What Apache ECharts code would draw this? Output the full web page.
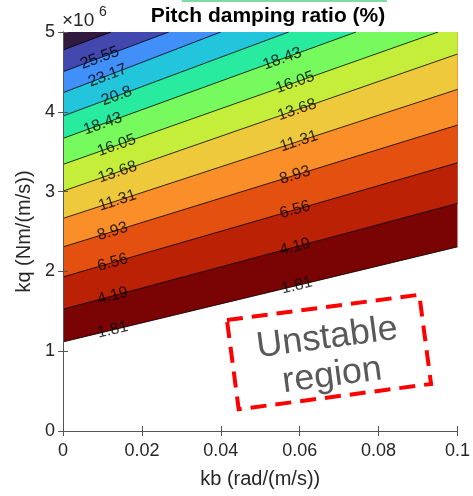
<!DOCTYPE html>
<html>
<head>
<meta charset="utf-8">
<script src="https://cdn.jsdelivr.net/npm/echarts@6/dist/echarts.min.js"></script>
<style>
  html, body { margin: 0; padding: 0; background: #fff; }
  #chart { width: 473px; height: 496px; }
</style>
</head>
<body>
<div id="chart"></div>
<script>
// contour levels of the pitch damping ratio (%)
const levels = [1.81, 4.19, 6.56, 8.93, 11.31, 13.68, 16.05, 18.43, 20.8, 23.17, 25.55, 27.92]
// each contour is a straight line: kq at kb = 0, then its end point (right edge or top edge)
const startKq = [1.116e6, 1.526e6, 1.931e6, 2.307e6, 2.664e6, 3.006e6, 3.341e6, 3.667e6, 3.947e6, 4.239e6, 4.502e6, 4.774e6]
const endKb = [0.1, 0.1, 0.1, 0.1, 0.1, 0.1, 0.0951, 0.0743, 0.0572, 0.04, 0.0268, 0.0122]
const endKq = [2.307e6, 2.852e6, 3.361e6, 3.834e6, 4.281e6, 4.724e6, 5e6, 5e6, 5e6, 5e6, 5e6, 5e6]
const xTicks = [0, 0.02, 0.04, 0.06, 0.08, 0.1]
const yTicks = [0, 1e6, 2e6, 3e6, 4e6, 5e6]

// fill colour of the band above each level
const bandColors = ['#7a0403', '#bb2104', '#e3500f', '#fa8f2a', '#eec93c', '#c4ee3a',
  '#77fa5e', '#29eb9f', '#22c5dc', '#418ff8', '#4348ae', '#301b3e']
// where along kb the inline labels sit (null = no label)
const leftLabelKb = [0.0126, 0.0126, 0.0126, 0.0126, 0.0138, 0.0138, 0.0136, 0.0101, 0.0136, 0.0113, 0.0093, null]
const rightLabelKb = [0.0593, 0.0588, 0.0588, 0.0588, 0.0598, 0.0593, 0.0588, 0.0556, null, null, null, null]

const font = '"Liberation Sans", Arial, Helvetica, sans-serif'
const grid = { left: 63, top: 32, width: 400, height: 399 }
const xMax = 0.1
const yMax = 5e6

function kqAt(i, kb) {
  return startKq[i] + (endKq[i] - startKq[i]) * kb / endKb[i]
}

function angle(i) {
  const dx = endKb[i] / xMax * grid.width
  const dy = (endKq[i] - startKq[i]) / yMax * grid.height
  return Math.atan2(dy, dx) * 180 / Math.PI
}

function labelData() {
  const out = []
  levels.forEach((lv, i) => {
    ;[leftLabelKb[i], rightLabelKb[i]].forEach((kb) => {
      if (kb == null) return
      out.push({
        value: [kb, kqAt(i, kb)],
        name: String(lv),
        label: { rotate: angle(i) }
      })
    })
  })
  return out
}

const bandSeries = levels.map((lv, i) => ({
  name: String(lv),
  type: 'line',
  data: [[0, startKq[i]], [endKb[i], endKq[i]]],
  symbol: 'none',
  silent: true,
  lineStyle: { color: '#000', width: 0.8 },
  areaStyle: { color: bandColors[i], opacity: 1, origin: 'end' },
  z: 2
}))

const axisLine = { show: true, lineStyle: { color: '#555', width: 1 } }
const axisTick = { show: true, inside: true, length: 5, lineStyle: { color: '#555' } }

const chart = echarts.init(document.getElementById('chart'))
chart.setOption({
  animation: false,
  textStyle: { fontFamily: font },
  title: {
    text: 'Pitch damping ratio (%)',
    left: 263,
    top: 1,
    textAlign: 'center',
    textStyle: { fontFamily: font, fontSize: 21, fontWeight: 'bold', color: '#000' }
  },
  grid: grid,
  xAxis: [{
    type: 'value', min: 0, max: xMax, interval: 0.02, position: 'bottom', z: 5,
    axisLine, axisTick,
    splitLine: { show: false },
    axisLabel: {
      color: '#262626', fontSize: 18, fontFamily: font, margin: 11,
      formatter: (v) => xTicks.includes(+v.toFixed(2)) ? String(+v.toFixed(2)) : ''
    },
    name: 'kb (rad/(m/s))', nameLocation: 'middle', nameGap: 38,
    nameTextStyle: { color: '#262626', fontSize: 20, fontFamily: font }
  }, {
    type: 'value', min: 0, max: xMax, interval: 0.02, position: 'top', z: 5,
    axisLine, axisTick, splitLine: { show: false }, axisLabel: { show: false }
  }],
  yAxis: [{
    type: 'value', min: 0, max: yMax, interval: 1e6, position: 'left', z: 5,
    axisLine, axisTick,
    splitLine: { show: false },
    axisLabel: {
      color: '#262626', fontSize: 18, fontFamily: font, margin: 8,
      formatter: (v) => yTicks.includes(v) ? String(v / 1e6) : ''
    },
    name: 'kq (Nm/(m/s))', nameLocation: 'middle', nameGap: 25,
    nameTextStyle: { color: '#262626', fontSize: 20, fontFamily: font }
  }, {
    type: 'value', min: 0, max: yMax, interval: 1e6, position: 'right', z: 5,
    axisLine, axisTick, splitLine: { show: false }, axisLabel: { show: false }
  }],
  series: [
    ...bandSeries,
    {
      type: 'scatter',
      data: labelData(),
      symbolSize: 0,
      silent: true,
      z: 4,
      label: {
        show: true,
        position: 'inside',
        formatter: (p) => p.name,
        color: '#000',
        fontSize: 16,
        fontFamily: font
      }
    }
  ],
  graphic: [
    { type: 'rect', left: 182, top: 0, shape: { width: 205, height: 2 }, style: { fill: '#7ddba8' } },
    { type: 'text', left: 62, top: 11, style: { text: '×10', fill: '#262626', fontSize: 19, fontFamily: font } },
    { type: 'text', left: 99, top: 5, style: { text: '6', fill: '#262626', fontSize: 14, fontFamily: font } },
    {
      type: 'group',
      x: 329, y: 352,
      rotation: 7.5 * Math.PI / 180,
      children: [
        {
          type: 'rect',
          shape: { x: -97, y: -45, width: 194, height: 90 },
          style: { fill: 'none', stroke: '#ff0000', lineWidth: 4, lineDash: [16, 9] }
        },
        {
          type: 'text', x: 0, y: -14,
          style: { text: 'Unstable', fill: '#595959', fontSize: 36, fontFamily: font, align: 'center', verticalAlign: 'middle' }
        },
        {
          type: 'text', x: 0, y: 24,
          style: { text: 'region', fill: '#595959', fontSize: 36, fontFamily: font, align: 'center', verticalAlign: 'middle' }
        }
      ]
    }
  ]
})
</script>
</body>
</html>
